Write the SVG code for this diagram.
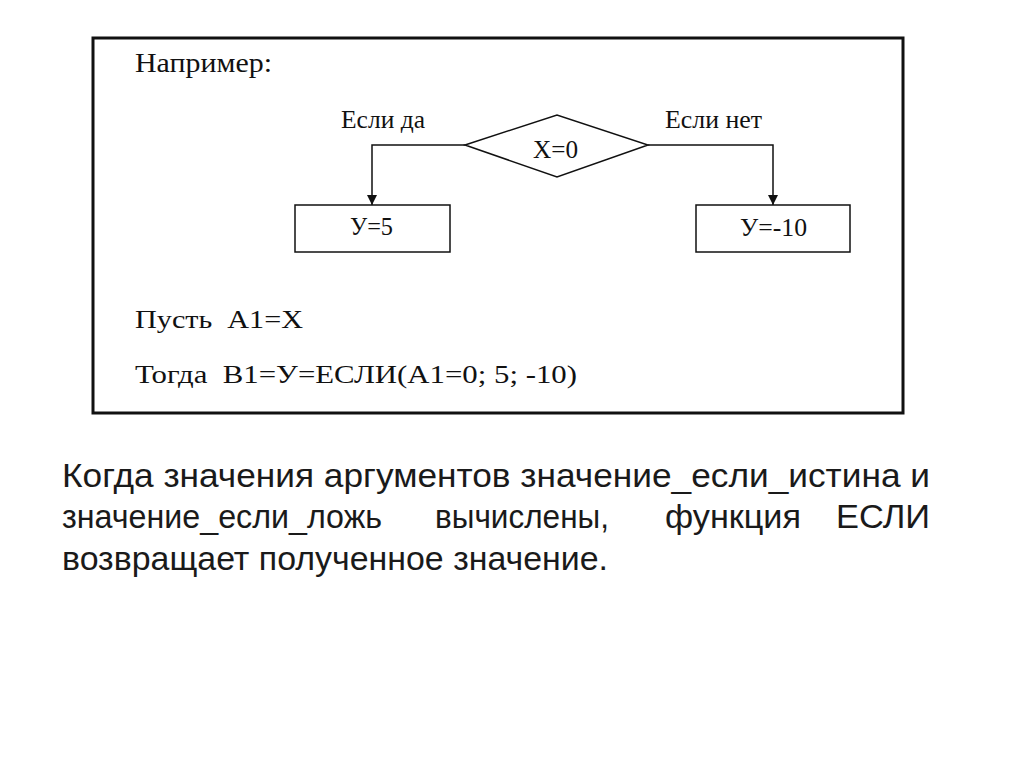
<svg xmlns="http://www.w3.org/2000/svg" width="1024" height="767" viewBox="0 0 1024 767">
<defs>
<style>
.s{font-family:"Liberation Serif","Times New Roman",serif;fill:#111;}
.a{font-family:"Liberation Sans",Arial,sans-serif;fill:#1a1a1a;font-size:33px;}
.ln{fill:none;stroke:#111;stroke-width:1.5;}
</style>
<marker id="arr" viewBox="0 0 10 10" refX="10" refY="5" markerWidth="10" markerHeight="10" markerUnits="userSpaceOnUse" orient="auto">
<path d="M0,0 L10,5 L0,10 Z" fill="#111"/>
</marker>
</defs>
<rect width="1024" height="767" fill="#fff"/>
<rect x="93" y="38" width="810" height="375" fill="#fff" stroke="#111" stroke-width="3"/>
<text class="s" x="135" y="72" font-size="28" textLength="137" lengthAdjust="spacingAndGlyphs">Например:</text>
<g id="connectors">
<polyline class="ln" points="465,145 372,145 372,205" marker-end="url(#arr)"/>
<polyline class="ln" points="648,145 773,145 773,205" marker-end="url(#arr)"/>
</g>
<g id="cond">
<polygon class="ln" points="465,145 557,115 648,145 557,177" fill="#fff"/>
<text class="s" x="533" y="158" font-size="25" textLength="45" lengthAdjust="spacingAndGlyphs">X=0</text>
</g>
<g id="yes">
<text class="s" x="341" y="128" font-size="25" textLength="84" lengthAdjust="spacingAndGlyphs">Если да</text>
<rect class="ln" x="295" y="205" width="155" height="47"/>
<text class="s" x="350" y="235" font-size="25" textLength="43" lengthAdjust="spacingAndGlyphs">У=5</text>
</g>
<g id="no">
<text class="s" x="665" y="128" font-size="25" textLength="97" lengthAdjust="spacingAndGlyphs">Если нет</text>
<rect class="ln" x="696" y="205" width="154" height="47"/>
<text class="s" x="740" y="236" font-size="25" textLength="67" lengthAdjust="spacingAndGlyphs">У=-10</text>
</g>
<text class="s" x="135" y="328" font-size="26" xml:space="preserve" textLength="168" lengthAdjust="spacingAndGlyphs">Пусть  A1=X</text>
<text class="s" x="135" y="383" font-size="26" xml:space="preserve" textLength="442" lengthAdjust="spacingAndGlyphs">Тогда  B1=У=ЕСЛИ(A1=0; 5; -10)</text>
<text class="a" x="62" y="487" textLength="868" lengthAdjust="spacingAndGlyphs">Когда значения аргументов значение_если_истина и</text>
<text class="a" x="62" y="528" textLength="320" lengthAdjust="spacingAndGlyphs">значение_если_ложь</text>
<text class="a" x="435" y="528" textLength="174" lengthAdjust="spacingAndGlyphs">вычислены,</text>
<text class="a" x="665" y="528" textLength="136" lengthAdjust="spacingAndGlyphs">функция</text>
<text class="a" x="836" y="528" textLength="94" lengthAdjust="spacingAndGlyphs">ЕСЛИ</text>
<text class="a" x="62" y="570" textLength="546" lengthAdjust="spacingAndGlyphs">возвращает полученное значение.</text>
</svg>
